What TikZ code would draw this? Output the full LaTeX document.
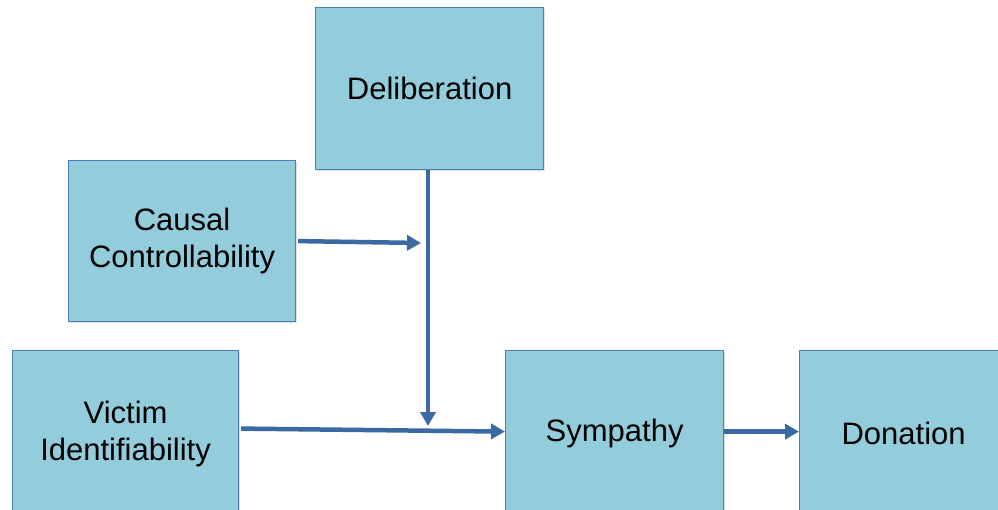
\documentclass[tikz,border=0pt]{standalone}
\usepackage{fontspec}
\setmainfont{Liberation Sans}
\usetikzlibrary{arrows.meta,shadows}
\definecolor{boxfill}{HTML}{93CDDC}
\definecolor{boxline}{HTML}{4A7EBB}
\definecolor{arrowcol}{HTML}{3A69A3}
\begin{document}
\begin{tikzpicture}[x=1pt,y=-1pt,
  box/.style={draw=boxline, line width=1.2pt, fill=boxfill, anchor=north west,
    inner sep=0pt, align=center, font=\fontsize{31}{37}\selectfont,
    drop shadow={opacity=0.25, shadow xshift=1.5pt, shadow yshift=-1.5pt}},
  conn/.style={draw=arrowcol, line width=4.5pt, -{Triangle[length=14pt,width=15pt]}}]
\useasboundingbox (0,0) rectangle (998,510);
\clip (0,0) rectangle (998,510);
\node[box, minimum width=228pt, minimum height=162pt] (delib) at (315,7) {Deliberation};
\node[box, minimum width=227pt, minimum height=161pt] (causal) at (68,160) {Causal\\Controllability};
\node[box, minimum width=226pt, minimum height=166pt] (victim) at (12,350) {Victim\\Identifiability};
\node[box, minimum width=218pt, minimum height=166pt] (symp) at (505,350) {Sympathy};
\node[box, minimum width=208pt, minimum height=166pt] (don) at (799,350) {Donation};
\coordinate (junction) at (428,426);
\coordinate (mid) at (421,243);
\draw[conn] (delib.south -| junction) -- (junction);
\draw[conn] ([xshift=2pt]causal.east) -- (mid);
\draw[conn] ([xshift=2pt,yshift=5pt]victim.east) -- ([yshift=2pt]symp.west);
\draw[conn] ([yshift=2pt]symp.east) -- ([yshift=2pt]don.west);
\end{tikzpicture}
\end{document}
